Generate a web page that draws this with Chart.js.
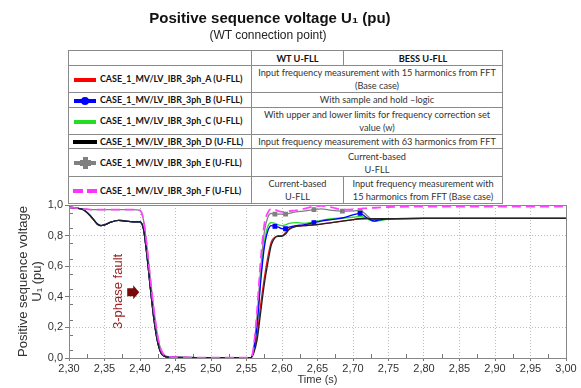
<!DOCTYPE html>
<html>
<head>
<meta charset="utf-8">
<script src="https://cdn.jsdelivr.net/npm/chart.js@4.4.1/dist/chart.umd.min.js"></script>
<style>
  body { margin: 0; background: #fff; }
  #wrap { position: relative; width: 581px; height: 388px; overflow: hidden; font-family: "Liberation Sans", Arial, sans-serif; }
  #chart { position: absolute; left: 0; top: 0; }
  .t1 { position: absolute; left: 0; width: 540px; top: 9px; text-align: center; font-weight: bold; font-size: 15px; color: #111; }
  .t2 { position: absolute; left: 0; width: 536px; top: 28px; text-align: center; font-size: 12px; color: #222; }
  table { position: absolute; left: 68px; top: 50px; width: 434px; border-collapse: collapse; table-layout: fixed;
          font-family: Lato, "Open Sans", sans-serif; font-size: 9.2px; color: #333; background: #fff; }
  td { border: 1px solid #8a8a8a; text-align: center; padding: 0 1px; line-height: 13px; white-space: nowrap; }
  td.lab { text-align: left; padding-left: 4px; font-weight: bold; font-size: 8.9px; color: #111; }
  td.lab svg { vertical-align: middle; margin-right: 3px; }
</style>
</head>
<body>
<div id="wrap">
  <canvas id="chart" width="581" height="388"></canvas>
  <div class="t1">Positive sequence voltage U₁ (pu)</div>
  <div class="t2">(WT connection point)</div>
  <table>
    <colgroup><col style="width:183px"><col style="width:92px"><col style="width:159px"></colgroup>
    <tr style="height:15px"><td></td><td style="font-weight:bold;color:#111">WT U-FLL</td><td style="font-weight:bold;color:#111">BESS U-FLL</td></tr>
    <tr style="height:27px"><td class="lab"><svg width="24" height="12"><line x1="1" y1="6" x2="23" y2="6" stroke="#ff0000" stroke-width="4"/></svg>CASE_1_MV/LV_IBR_3ph_A (U-FLL)</td>
      <td colspan="2">Input frequency measurement with 15 harmonics from FFT<br>(Base case)</td></tr>
    <tr style="height:14px"><td class="lab"><svg width="24" height="12"><line x1="1" y1="6" x2="23" y2="6" stroke="#0000ff" stroke-width="4"/><circle cx="12" cy="6" r="4" fill="#0000ff"/></svg>CASE_1_MV/LV_IBR_3ph_B (U-FLL)</td>
      <td colspan="2">With sample and hold –logic</td></tr>
    <tr style="height:27px"><td class="lab"><svg width="24" height="12"><line x1="1" y1="6" x2="23" y2="6" stroke="#22dd22" stroke-width="4"/></svg>CASE_1_MV/LV_IBR_3ph_C (U-FLL)</td>
      <td colspan="2">With upper and lower limits for frequency correction set<br>value (w)</td></tr>
    <tr style="height:14px"><td class="lab"><svg width="24" height="12"><line x1="0" y1="6" x2="24" y2="6" stroke="#000000" stroke-width="4"/></svg>CASE_1_MV/LV_IBR_3ph_D (U-FLL)</td>
      <td colspan="2">Input frequency measurement with 63 harmonics from FFT</td></tr>
    <tr style="height:28px"><td class="lab"><svg width="24" height="14"><line x1="1" y1="7" x2="23" y2="7" stroke="#808080" stroke-width="4"/><rect x="10" y="1" width="5" height="12" fill="#808080"/><rect x="7" y="4" width="11" height="6" fill="#808080"/></svg>CASE_1_MV/LV_IBR_3ph_E (U-FLL)</td>
      <td colspan="2">Current-based<br>U-FLL</td></tr>
    <tr style="height:27px"><td class="lab"><svg width="24" height="12"><line x1="0" y1="6" x2="10" y2="6" stroke="#ff33ff" stroke-width="4"/><line x1="14" y1="6" x2="24" y2="6" stroke="#ff33ff" stroke-width="4"/></svg>CASE_1_MV/LV_IBR_3ph_F (U-FLL)</td>
      <td>Current-based<br>U-FLL</td><td>Input frequency measurement with<br>15 harmonics from FFT (Base case)</td></tr>
  </table>
</div>
<script>
// time axis (s)
const time = [2.30, 2.31, 2.32, 2.33, 2.34, 2.345, 2.35, 2.36, 2.37, 2.38, 2.39, 2.40, 2.405, 2.41, 2.415, 2.42, 2.425, 2.43, 2.44, 2.50,
              2.556, 2.56, 2.565, 2.57, 2.575, 2.58, 2.585, 2.59, 2.595, 2.60, 2.605, 2.61, 2.62, 2.63, 2.645, 2.655, 2.67, 2.685, 2.70, 2.71,
              2.72, 2.73, 2.74, 2.75, 2.80, 2.85, 2.90, 2.95, 3.00];

// U1 (pu) per case
const caseA = [0.985, 0.98, 0.97, 0.93, 0.875, 0.865, 0.87, 0.89, 0.90, 0.895, 0.89, 0.89, 0.84, 0.66, 0.44, 0.24, 0.10, 0.03, 0.005, 0.002,
               0.002, 0.04, 0.15, 0.35, 0.52, 0.66, 0.76, 0.79, 0.80, 0.80, 0.82, 0.845, 0.86, 0.865, 0.87, 0.875, 0.885, 0.895, 0.905, 0.91,
               0.91, 0.905, 0.908, 0.91, 0.912, 0.912, 0.912, 0.912, 0.912];
const caseB = [0.985, 0.98, 0.97, 0.93, 0.875, 0.865, 0.87, 0.89, 0.90, 0.895, 0.89, 0.89, 0.84, 0.66, 0.44, 0.24, 0.10, 0.03, 0.005, 0.002,
               0.002, 0.05, 0.22, 0.50, 0.72, 0.83, 0.865, 0.86, 0.855, 0.845, 0.845, 0.855, 0.865, 0.87, 0.885, 0.895, 0.905, 0.915, 0.935, 0.945,
               0.915, 0.895, 0.905, 0.91, 0.912, 0.912, 0.912, 0.912, 0.912];
const caseC = [0.985, 0.98, 0.97, 0.93, 0.875, 0.865, 0.87, 0.89, 0.90, 0.895, 0.89, 0.89, 0.84, 0.66, 0.44, 0.24, 0.10, 0.03, 0.005, 0.002,
               0.002, 0.05, 0.22, 0.52, 0.75, 0.86, 0.885, 0.88, 0.87, 0.865, 0.87, 0.88, 0.885, 0.88, 0.89, 0.90, 0.91, 0.915, 0.92, 0.925,
               0.91, 0.893, 0.90, 0.908, 0.912, 0.912, 0.912, 0.912, 0.912];
const caseD = [0.985, 0.98, 0.97, 0.93, 0.875, 0.865, 0.87, 0.89, 0.90, 0.895, 0.89, 0.89, 0.84, 0.66, 0.44, 0.24, 0.10, 0.03, 0.005, 0.002,
               0.002, 0.03, 0.12, 0.30, 0.48, 0.62, 0.74, 0.785, 0.795, 0.795, 0.81, 0.84, 0.86, 0.865, 0.87, 0.875, 0.885, 0.895, 0.905, 0.91,
               0.912, 0.91, 0.91, 0.91, 0.912, 0.912, 0.912, 0.912, 0.912];
const caseE = [0.985, 0.98, 0.975, 0.97, 0.97, 0.97, 0.97, 0.97, 0.97, 0.97, 0.97, 0.965, 0.90, 0.72, 0.50, 0.30, 0.14, 0.05, 0.008, 0.002,
               0.002, 0.06, 0.28, 0.58, 0.82, 0.92, 0.945, 0.94, 0.94, 0.94, 0.94, 0.945, 0.955, 0.96, 0.97, 0.975, 0.965, 0.96, 0.962, 0.965,
               0.93, 0.895, 0.905, 0.91, 0.912, 0.912, 0.912, 0.912, 0.912];
const caseF = [0.985, 0.98, 0.975, 0.97, 0.97, 0.97, 0.97, 0.97, 0.97, 0.97, 0.97, 0.965, 0.90, 0.72, 0.50, 0.30, 0.14, 0.05, 0.008, 0.002,
               0.002, 0.07, 0.32, 0.64, 0.87, 0.95, 0.975, 0.97, 0.96, 0.955, 0.955, 0.96, 0.965, 0.975, 0.99, 0.995, 0.985, 0.97, 0.972, 0.975,
               0.98, 0.982, 0.985, 0.987, 0.99, 0.99, 0.99, 0.99, 0.99];

// times where the markers sit
const markersB = [2.59, 2.605, 2.645, 2.71];
const markersE = [2.59, 2.605, 2.645, 2.685, 2.71];

const xTicks = [2.30, 2.35, 2.40, 2.45, 2.50, 2.55, 2.60, 2.65, 2.70, 2.75, 2.80, 2.85, 2.90, 2.95, 3.00];

function pts(vals) {
    return time.map((t, i) => ({ x: t, y: vals[i] }));
}

const extras = {
    id: 'extras',
    beforeDatasetsDraw(chart) {
        const { ctx, chartArea: a, scales: { x, y } } = chart;
        ctx.save();
        ctx.strokeStyle = '#777';
        ctx.lineWidth = 1;
        ctx.beginPath();
        // minor ticks
        for (let i = 0; i < xTicks.length - 1; i++) {
            const px = Math.round(x.getPixelForValue((xTicks[i] + xTicks[i + 1]) / 2)) + 0.5;
            ctx.moveTo(px, a.bottom);
            ctx.lineTo(px, a.bottom - 4);
        }
        for (let v = 0.05; v < 1; v += 0.1) {
            const py = Math.round(y.getPixelForValue(v)) + 0.5;
            ctx.moveTo(a.left, py);
            ctx.lineTo(a.left + 4, py);
        }
        ctx.stroke();
        // frame
        ctx.strokeStyle = '#888';
        ctx.strokeRect(Math.round(a.left) + 0.5, Math.round(a.top) + 0.5, Math.round(a.right - a.left), Math.round(a.bottom - a.top));
        ctx.restore();
    },
    afterDatasetsDraw(chart) {
        const { ctx, scales: { x, y } } = chart;
        ctx.save();
        // fault label
        const tx = x.getPixelForValue(2.369), ty = y.getPixelForValue(0.435);
        ctx.translate(tx, ty);
        ctx.rotate(-Math.PI / 2);
        ctx.fillStyle = '#9b2323';
        ctx.font = '13px "Liberation Sans", Arial, sans-serif';
        ctx.textAlign = 'center';
        ctx.textBaseline = 'middle';
        ctx.fillText('3-phase fault', 0, 0);
        ctx.restore();
        // arrow
        const ax = x.getPixelForValue(2.382), ay = y.getPixelForValue(0.43);
        ctx.save();
        ctx.fillStyle = '#7a0a0a';
        ctx.beginPath();
        ctx.moveTo(ax, ay - 4);
        ctx.lineTo(ax + 6, ay - 4);
        ctx.lineTo(ax + 6, ay - 7);
        ctx.lineTo(ax + 12, ay);
        ctx.lineTo(ax + 6, ay + 7);
        ctx.lineTo(ax + 6, ay + 4);
        ctx.lineTo(ax, ay + 4);
        ctx.closePath();
        ctx.fill();
        ctx.restore();
    }
};

const tickFont = { family: '"Liberation Sans", Arial, sans-serif', size: 11 };

const chart = new Chart(document.getElementById('chart'), {
    type: 'line',
    data: {
        datasets: [
            { label: 'CASE_1_MV/LV_IBR_3ph_A (U-FLL)', data: pts(caseA), borderColor: '#ee1111', borderWidth: 1.3, pointRadius: 0, order: 6 },
            { label: 'CASE_1_MV/LV_IBR_3ph_E (U-FLL)', data: pts(caseE), borderColor: '#808080', backgroundColor: '#808080', borderWidth: 1.3,
              pointStyle: 'rect', pointRadius: ctx => markersE.includes(time[ctx.dataIndex]) ? 2.5 : 0, order: 5 },
            { label: 'CASE_1_MV/LV_IBR_3ph_C (U-FLL)', data: pts(caseC), borderColor: '#22dd22', borderWidth: 1.3, pointRadius: 0, order: 4 },
            { label: 'CASE_1_MV/LV_IBR_3ph_B (U-FLL)', data: pts(caseB), borderColor: '#0000ff', backgroundColor: '#0000ff', borderWidth: 1.3,
              pointStyle: 'rect', pointRadius: ctx => markersB.includes(time[ctx.dataIndex]) ? 2.5 : 0, order: 3 },
            { label: 'CASE_1_MV/LV_IBR_3ph_D (U-FLL)', data: pts(caseD), borderColor: '#222222', borderWidth: 1.3, pointRadius: 0, order: 2 },
            { label: 'CASE_1_MV/LV_IBR_3ph_F (U-FLL)', data: pts(caseF), borderColor: '#ff44ff', borderWidth: 1.8, borderDash: [9, 5], pointRadius: 0, order: 1 }
        ]
    },
    options: {
        responsive: false,
        animation: false,
        cubicInterpolationMode: 'monotone',
        layout: { padding: { top: 205, right: 15, bottom: 0, left: 0 } },
        plugins: { legend: { display: false }, tooltip: { enabled: false } },
        scales: {
            x: {
                type: 'linear', min: 2.30, max: 3.00,
                afterFit: s => { s.height = 30; },
                afterBuildTicks: s => { s.ticks = xTicks.map(v => ({ value: v })); },
                ticks: { font: tickFont, color: '#333', padding: 1, maxRotation: 0, autoSkip: false,
                         callback: v => v.toFixed(2).replace('.', ',') },
                grid: { color: '#bdbdbd', tickLength: 3, tickColor: '#777' },
                border: { display: true, color: '#888', dash: [1, 2] },
                title: { display: true, text: 'Time (s)', font: tickFont, color: '#333', padding: { top: 0, bottom: 1 } }
            },
            y: {
                min: 0, max: 1.0,
                afterFit: s => { s.width = 69; },
                ticks: { stepSize: 0.1, font: tickFont, color: '#333', padding: 2,
                         callback: v => v.toFixed(1).replace('.', ',') },
                grid: { color: '#bdbdbd', tickLength: 4, tickColor: '#777' },
                border: { display: true, color: '#888', dash: [1, 2] },
                title: { display: true, text: ['Positive sequence voltage', 'U₁ (pu)'], color: '#333',
                         font: { family: '"Liberation Sans", Arial, sans-serif', size: 13, lineHeight: 1.1 },
                         padding: { top: 16, bottom: 0 } }
            }
        }
    },
    plugins: [extras]
});
</script>
</body>
</html>
